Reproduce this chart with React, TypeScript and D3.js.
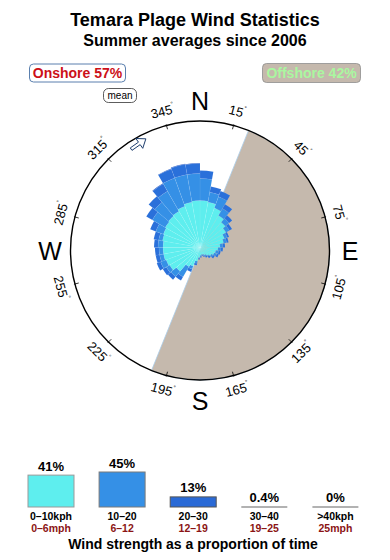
import React from "react";
import * as d3 from "d3";

// ---- Data ----
const directions = [0,10,20,30,40,50,60,70,80,90,100,110,120,130,140,150,160,170,180,190,200,210,220,230,240,250,260,270,280,290,300,310,320,330,340,350];
const speed0to10 = [2.81,2.69,2.24,1.74,1.39,1.15,0.86,0.73,0.51,0.41,0.33,0.29,0.22,0.15,0.10,0.08,0.06,0.08,0.13,0.25,0.51,0.62,1.22,1.56,1.65,1.74,1.74,1.74,1.84,1.93,2.04,2.14,2.24,2.46,2.69,2.81];
const speed10to20 = [3.25,1.30,1.47,0.84,0.45,0.32,0.21,0.20,0.16,0.15,0.13,0.12,0.07,0.03,0.03,0.02,0.02,0.02,0.02,0.08,0.16,0.85,0.62,0.37,0.59,0.40,0.40,0.50,0.40,0.88,1.81,2.29,3.14,4.51,4.30,4.16];
const speed20to30 = [1.48,0.90,0.87,0.60,0.40,0.27,0.15,0.14,0.13,0.11,0.10,0.10,0.08,0.07,0.05,0.03,0.02,0.03,0.03,0.08,0.19,0.37,0.40,0.42,0.45,0.44,0.44,0.45,0.57,0.76,1.04,1.28,1.49,1.91,2.10,2.02];
const speed30to40 = [0,0,0,0,0,0,0,0,0,0,0,0,0,0,0,0,0,0,0,0,0,0,0,0,0,0,0,0,0,0,0,0,0.1,0.1,0.1,0.1];
const roseSeries = [speed0to10, speed10to20, speed20to30, speed30to40];

const tickAngles = [15,45,75,105,135,165,195,225,255,285,315,345];
const cardinals = [{ t: "N", a: 0 }, { t: "E", a: 90 }, { t: "S", a: 180 }, { t: "W", a: 270 }];

const offshoreStart = 22;
const offshoreEnd = 202;
const meanDirection = 330;

const speedBins = ["0–10kph", "10–20", "20–30", "30–40", ">40kph"];
const speedBinsMph = ["0–6mph", "6–12", "12–19", "19–25", "25mph"];
const speedShares = [41, 45, 13, 0.4, 0];
const speedShareLabels = ["41%", "45%", "13%", "0.4%", "0%"];

const onshoreLabel = "Onshore 57%";
const offshoreLabel = "Offshore 42%";

// ---- Styles ----
const FONT = "'Liberation Sans', Arial, Helvetica, sans-serif";
const roseColors = ["#5eeeee", "#3590e6", "#2a70da", "#1e55c4"];
const barColors = ["#5eeeee", "#3590e6", "#2a6ad6", "#1e55c4", "#1e55c4"];
const barStrokes = ["#9a9a9a", "#7a7a7a", "#555", "#999", "#999"];

const W = 390, H = 560;
const cx = 200, cy = 250.5, R = 129.5;
const roseCy = 247.5;
const barBase = 507;

const rad = (deg: number) => (deg * Math.PI) / 180;
const polar = (deg: number, r: number, y0 = cy) => [cx + r * Math.sin(rad(deg)), y0 - r * Math.cos(rad(deg))];

export default function App() {
  const rScale = d3.scaleSqrt().domain([0, 10]).range([0, 88.7]);
  const arc = d3.arc<any>();

  // stacked rose segments
  const segments: { d: string; color: string }[] = [];
  directions.forEach((dir, i) => {
    let cum = 0;
    roseSeries.forEach((series, k) => {
      const v = series[i];
      if (v <= 0) return;
      const inner = rScale(cum);
      cum += v;
      const outer = rScale(cum);
      const d = arc({
        innerRadius: inner,
        outerRadius: outer,
        startAngle: rad(dir),
        endAngle: rad(dir + 10),
      }) as string;
      segments.push({ d, color: roseColors[k] });
    });
  });

  const wedge = arc({ innerRadius: 0, outerRadius: R, startAngle: rad(offshoreStart), endAngle: rad(offshoreEnd) }) as string;

  // bars
  const xBand = d3.scaleBand<string>().domain(speedBins).range([28, 358.4]).paddingInner(0.353).paddingOuter(0);
  const yBar = d3.scaleLinear().domain([0, 45]).range([barBase, 472]);

  const [mx, my] = polar(meanDirection, 123);

  return (
    <svg width={W} height={H} style={{ position: "fixed", left: 0, top: 0, background: "#fff" }} fontFamily={FONT}>
      <text x={195} y={26} textAnchor="middle" fontSize={18} fontWeight="bold" fill="#000">Temara Plage Wind Statistics</text>
      <text x={195} y={46} textAnchor="middle" fontSize={16} fontWeight="bold" fill="#000">Summer averages since 2006</text>

      {/* onshore / offshore boxes */}
      <rect x={29.5} y={64} width={96} height={18} rx={4} fill="#fff" stroke="#5a7fae" strokeWidth={1} />
      <text x={77.5} y={77.5} textAnchor="middle" fontSize={14} fontWeight="bold" fill="#cc1018">{onshoreLabel}</text>
      <rect x={262.5} y={63.5} width={98} height={19} rx={4} fill="#c5b9ad" stroke="#8e8e8e" strokeWidth={0.8} />
      <text x={311.5} y={77.5} textAnchor="middle" fontSize={14} fontWeight="bold" fill="#aaf7a0">{offshoreLabel}</text>

      {/* mean box */}
      <rect x={103.5} y={88.5} width={33} height={14} rx={5} fill="#fff" stroke="#333" strokeWidth={0.8} />
      <text x={120} y={99} textAnchor="middle" fontSize={10} fill="#000">mean</text>

      {/* offshore wedge */}
      <path d={wedge} transform={`translate(${cx},${cy})`} fill="#c5b9ad" stroke="#a9cdea" strokeWidth={0.8} />

      {/* rose */}
      <g transform={`translate(${cx},${roseCy})`}>
        {segments.map((s, i) => (
          <path key={i} d={s.d} fill={s.color} stroke="rgba(255,255,255,0.15)" strokeWidth={0.4} />
        ))}
      </g>

      {/* circle */}
      <circle cx={cx} cy={cy} r={R} fill="none" stroke="#000" strokeWidth={1.4} />

      {/* ticks */}
      {tickAngles.map((a) => {
        const [x1, y1] = polar(a, R - 4);
        const [x2, y2] = polar(a, R + 1);
        const [lx, ly] = polar(a, 144);
        const rot = a > 90 && a < 270 ? a - 180 : a > 180 ? a - 360 : a;
        return (
          <g key={a}>
            <line x1={x1} y1={y1} x2={x2} y2={y2} stroke="#000" strokeWidth={0.8} />
            <text transform={`translate(${lx},${ly}) rotate(${rot})`} textAnchor="middle" dominantBaseline="central" fontSize={13} fill="#000">
              {a}
              <tspan fontSize={6} dy={-5}>°</tspan>
            </text>
          </g>
        );
      })}

      {/* cardinals */}
      {cardinals.map((c) => {
        const [x, y] = polar(c.a, 150);
        return (
          <text key={c.t} x={x} y={y} textAnchor="middle" dominantBaseline="central" fontSize={25} fill="#000">{c.t}</text>
        );
      })}

      {/* mean arrow */}
      <g transform={`translate(${mx},${my}) rotate(-35)`}>
        <path d="M-9,-1.5 L1,-1.5 L1,-6 L9,0 L1,6 L1,1.5 L-9,1.5 Z" fill="#fff" stroke="#1c3c6c" strokeWidth={0.9} />
      </g>

      {/* speed bars */}
      {speedBins.map((b, i) => {
        const x = xBand(b) as number;
        const bw = xBand.bandwidth();
        const y = yBar(speedShares[i]);
        const h = barBase - y;
        const xc = x + bw / 2;
        return (
          <g key={b}>
            {h >= 1.5 ? (
              <rect x={x} y={y} width={bw} height={h} fill={barColors[i]} stroke={barStrokes[i]} strokeWidth={1} />
            ) : (
              <line x1={x} x2={x + bw} y1={barBase} y2={barBase} stroke="#999" strokeWidth={1.5} />
            )}
            <text x={xc} y={Math.min(y, barBase - 1) - 4.5} textAnchor="middle" fontSize={13} fontWeight="bold" fill="#000">{speedShareLabels[i]}</text>
            <text x={xc} y={520} textAnchor="middle" fontSize={10.5} fontWeight="bold" fill="#000">{b}</text>
            <text x={xc} y={531.5} textAnchor="middle" fontSize={10.5} fontWeight="bold" fill="#8b1414">{speedBinsMph[i]}</text>
          </g>
        );
      })}
      <text x={193} y={548.5} textAnchor="middle" fontSize={14} fontWeight="bold" fill="#000">Wind strength as a proportion of time</text>
    </svg>
  );
}
